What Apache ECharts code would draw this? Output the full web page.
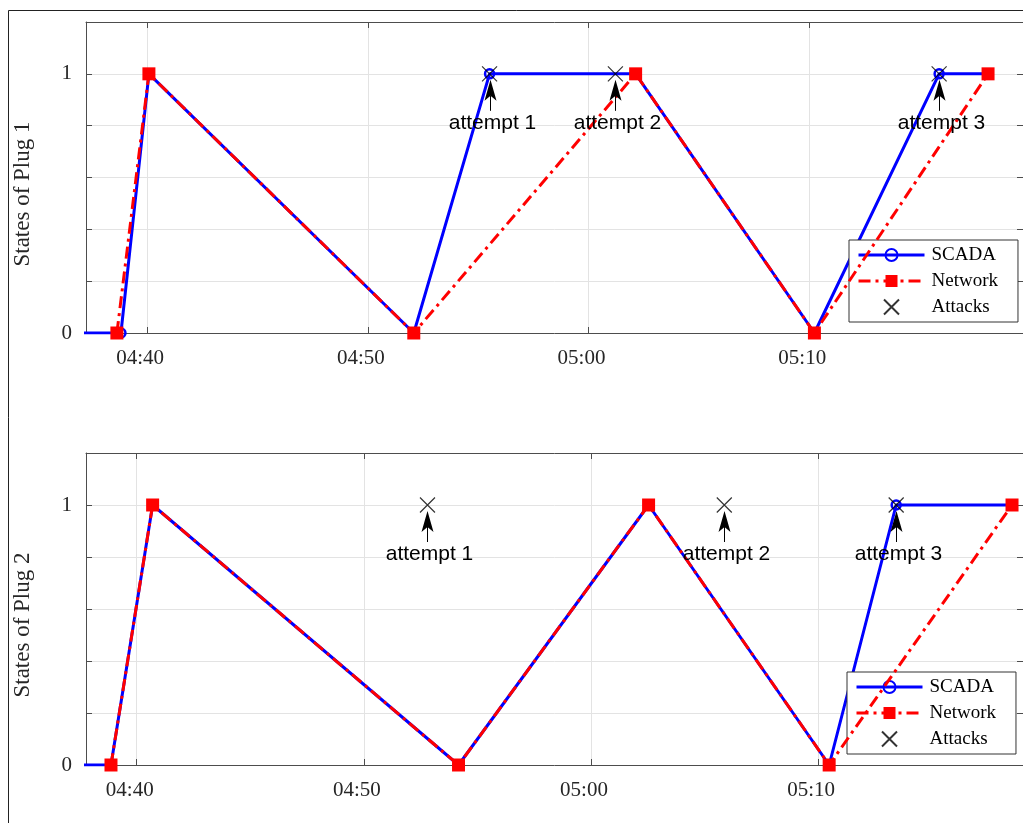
<!DOCTYPE html>
<html>
<head>
<meta charset="utf-8">
<script src="https://cdn.jsdelivr.net/npm/echarts@6/dist/echarts.min.js"></script>
<style>
html,body{margin:0;padding:0;background:#fff;}
#c{width:1023px;height:823px;}
</style>
</head>
<body>
<div id="c"></div>
<script>
// ---------------- data ----------------
const xTickLabels = ['04:40', '04:50', '05:00', '05:10'];
const yTickLabels = ['0', '1'];
const seriesNames = ['SCADA', 'Network', 'Attacks'];
const yAxisTitles = ['States of Plug 1', 'States of Plug 2'];
const attackLabels = ['attempt 1', 'attempt 2', 'attempt 3'];

// Plug 1
const plug1Range = ['04:37:14', '05:19:41'];
const plug1ScadaTimes = ['04:36:00', '04:38:49', '04:40:05', '04:52:05', '04:55:31', '05:02:08', '05:10:14', '05:15:53', '05:18:06'];
const plug1ScadaStates = [0, 0, 1, 0, 1, 1, 0, 1, 1];
const plug1NetworkTimes = ['04:38:38', '04:40:05', '04:52:05', '05:02:08', '05:10:14', '05:18:06'];
const plug1NetworkStates = [0, 1, 0, 1, 0, 1];
const plug1AttackTimes = ['04:55:31', '05:01:13', '05:15:53'];
const plug1AttackStates = [1, 1, 1];

// Plug 2
const plug2Range = ['04:37:46', '05:19:01'];
const plug2ScadaTimes = ['04:36:00', '04:38:52', '04:40:42', '04:54:10', '05:02:32', '05:10:29', '05:13:26', '05:18:32'];
const plug2ScadaStates = [0, 0, 1, 0, 1, 0, 1, 1];
const plug2NetworkTimes = ['04:38:52', '04:40:42', '04:54:10', '05:02:32', '05:10:29', '05:18:32'];
const plug2NetworkStates = [0, 1, 0, 1, 0, 1];
const plug2AttackTimes = ['04:52:48', '05:05:52', '05:13:26'];
const plug2AttackStates = [1, 1, 1];

// ---------------- helpers ----------------
function toMin(s) {
  const p = s.split(':').map(Number);
  return p[0] * 60 + p[1] + (p[2] || 0) / 60;
}
function zip(ts, vs) { return ts.map((t, i) => [toMin(t), vs[i]]); }
function fmtMin(v) {
  const h = Math.floor(v / 60), m = Math.round(v - h * 60);
  return String(h).padStart(2, '0') + ':' + String(m).padStart(2, '0');
}

const SERIF = '"Liberation Serif", "Times New Roman", serif';
const SANS = '"Liberation Sans", Arial, sans-serif';
const AXIS_COLOR = '#4d4d4d';
const GRID_COLOR = '#e3e3e3';
const xTickValues = xTickLabels.map(toMin);
const yTickValues = yTickLabels.map(Number);
const X_PATH = 'path://M0,0L10,10M10,0L0,10';

const plots = [
  { range: plug1Range, scada: zip(plug1ScadaTimes, plug1ScadaStates), net: zip(plug1NetworkTimes, plug1NetworkStates),
    atk: zip(plug1AttackTimes, plug1AttackStates), grid: { left: 86, top: 22, width: 940, height: 311 },
    legend: { left: 849, top: 240 }, title: { x: 23, y: 194 } },
  { range: plug2Range, scada: zip(plug2ScadaTimes, plug2ScadaStates), net: zip(plug2NetworkTimes, plug2NetworkStates),
    atk: zip(plug2AttackTimes, plug2AttackStates), grid: { left: 86, top: 453, width: 940, height: 312 },
    legend: { left: 847, top: 672 }, title: { x: 23, y: 625 } }
];

const option = {
  animation: false,
  backgroundColor: '#fff',
  grid: [], xAxis: [], yAxis: [], series: [], legend: [], graphic: []
};

plots.forEach((pl, gi) => {
  option.grid.push(Object.assign({ containLabel: false }, pl.grid));
  const xmin = toMin(pl.range[0]), xmax = toMin(pl.range[1]);
  option.xAxis.push({
    type: 'value', gridIndex: gi, min: xmin, max: xmax, position: 'bottom',
    axisLine: { show: true, onZero: false, lineStyle: { color: AXIS_COLOR, width: 1 } },
    axisTick: { show: true, inside: true, length: 6, customValues: xTickValues, lineStyle: { color: AXIS_COLOR } },
    axisLabel: { show: true, customValues: xTickValues, formatter: v => fmtMin(v), margin: 15,
      color: '#262626', fontFamily: SERIF, fontSize: 21, padding: [0, 14, 0, 0] },
    splitLine: { show: true, lineStyle: { color: GRID_COLOR, width: 1 } }
  });
  option.xAxis.push({
    type: 'value', gridIndex: gi, min: xmin, max: xmax, position: 'top',
    axisLine: { show: true, onZero: false, lineStyle: { color: AXIS_COLOR, width: 1 } },
    axisTick: { show: true, inside: true, length: 6, customValues: xTickValues, lineStyle: { color: AXIS_COLOR } },
    axisLabel: { show: false }, splitLine: { show: false }
  });
  option.yAxis.push({
    type: 'value', gridIndex: gi, min: 0, max: 1.2, interval: 0.2, position: 'left',
    axisLine: { show: true, onZero: false, lineStyle: { color: AXIS_COLOR, width: 1 } },
    axisTick: { show: true, inside: true, length: 6, lineStyle: { color: AXIS_COLOR } },
    axisLabel: { show: true, customValues: yTickValues, formatter: v => String(v), margin: 14,
      color: '#262626', fontFamily: SERIF, fontSize: 21 },
    splitLine: { show: true, lineStyle: { color: GRID_COLOR, width: 1 } }
  });
  option.yAxis.push({
    type: 'value', gridIndex: gi, min: 0, max: 1.2, interval: 0.2, position: 'right',
    axisLine: { show: true, onZero: false, lineStyle: { color: AXIS_COLOR, width: 1 } },
    axisTick: { show: true, inside: true, length: 6, lineStyle: { color: AXIS_COLOR } },
    axisLabel: { show: false }, splitLine: { show: false }
  });

  const xi = gi * 2, yi = gi * 2;
  option.series.push({
    name: seriesNames[0], type: 'line', xAxisIndex: xi, yAxisIndex: yi, data: pl.scada, clip: true,
    symbol: 'circle', symbolSize: 9, showAllSymbol: true,
    lineStyle: { color: '#0000ff', width: 3 },
    itemStyle: { color: 'rgba(255,255,255,0)', borderColor: '#0000ff', borderWidth: 2.5 }, z: 3
  });
  option.series.push({
    name: seriesNames[1], type: 'line', xAxisIndex: xi, yAxisIndex: yi, data: pl.net, clip: true,
    symbol: 'rect', symbolSize: 13, showAllSymbol: true,
    lineStyle: { color: '#ff0000', width: 3, type: [12, 5, 3, 5] },
    itemStyle: { color: '#ff0000' }, z: 4
  });
  option.series.push({
    name: seriesNames[2], type: 'scatter', xAxisIndex: xi, yAxisIndex: yi, data: pl.atk,
    symbol: X_PATH, symbolSize: 15,
    itemStyle: { color: 'none', borderColor: '#000', borderWidth: 1.2 }, z: 5
  });
  option.series.push({
    name: 'annotations', type: 'custom', xAxisIndex: xi, yAxisIndex: yi, data: pl.atk, clip: false, z: 6,
    silent: true,
    renderItem: (params, api) => {
      const p = api.coord([api.value(0), api.value(1)]);
      const x = Math.round(p[0]) + 0.5, y = p[1];
      return {
        type: 'group',
        children: [
          { type: 'line', shape: { x1: x, y1: y + 37, x2: x, y2: y + 22 }, style: { stroke: '#000', lineWidth: 1 } },
          { type: 'polygon', shape: { points: [[x, y + 6], [x - 6, y + 27], [x, y + 22], [x + 6, y + 27]] }, style: { fill: '#000' } },
          { type: 'text', x: x + 2, y: y + 49,
            style: { text: attackLabels[params.dataIndex], font: '21px ' + SANS, fill: '#000',
              align: 'center', verticalAlign: 'middle' } }
        ]
      };
    }
  });

  option.legend.push({
    show: true, orient: 'vertical', left: pl.legend.left, top: pl.legend.top,
    data: seriesNames, backgroundColor: '#fff', borderColor: '#333', borderWidth: 1,
    padding: [5, 20, 5, 8], itemGap: 6, itemWidth: 66, itemHeight: 15,
    selectedMode: false,
    lineStyle: { width: 3 },
    textStyle: { fontFamily: SERIF, fontSize: 19, color: '#000', lineHeight: 20, padding: [0, 0, 0, 2] }
  });

  option.graphic.push({
    type: 'text', x: pl.title.x, y: pl.title.y, rotation: Math.PI / 2,
    style: { text: yAxisTitles[gi], font: '23px ' + SERIF, fill: '#262626', align: 'center', verticalAlign: 'middle' }
  });
});

option.graphic.push({
  type: 'rect', shape: { x: 8.5, y: 10.5, width: 1200, height: 1000 },
  style: { fill: 'none', stroke: '#222', lineWidth: 1 }, z: -1
});

const chart = echarts.init(document.getElementById('c'), null, { renderer: 'canvas' });
chart.setOption(option);
</script>
</body>
</html>
